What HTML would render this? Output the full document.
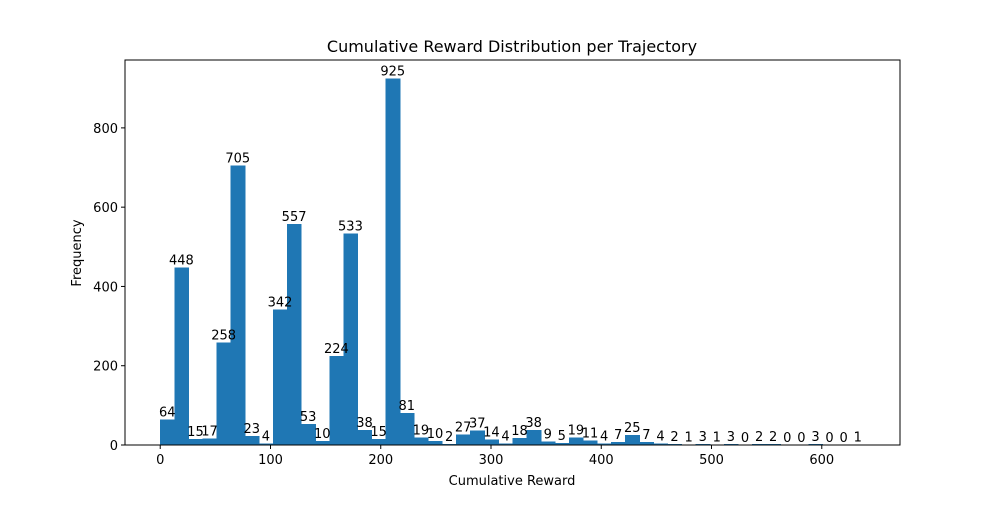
<!DOCTYPE html>
<html><head><meta charset="utf-8"><style>
body{margin:0;background:#fff;}
svg text{font-family:"DejaVu Sans","Liberation Sans",sans-serif;}
</style></head><body>
<svg id="chart" width="1000" height="500" xmlns="http://www.w3.org/2000/svg">
<rect width="1000" height="500" fill="#fff"/>
<text x="512" y="52" font-size="16" text-anchor="middle">Cumulative Reward Distribution per Trajectory</text>
<text x="512" y="485" font-size="13" text-anchor="middle">Cumulative Reward</text>
<text x="81" y="253" font-size="13" text-anchor="middle" transform="rotate(-90 81 253)">Frequency</text>
<g id="bars" shape-rendering="crispEdges"></g><g id="labels"></g><g id="axes"></g>
</svg>
<script>
const counts=[64,448,15,17,258,705,23,4,342,557,53,10,224,533,38,15,925,81,19,10,2,27,37,14,4,18,38,9,5,19,11,4,7,25,7,4,2,1,3,1,3,0,2,2,0,0,3,0,0,1];
const dataMin=0, dataMax=639;
const xTicks=[0,100,200,300,400,500,600];
const yTicks=[0,200,400,600,800];
const L=125,R=900,T=60,B=445;
const span=dataMax-dataMin, xmin=dataMin-0.05*span, xmax=dataMax+0.05*span;
const ymax=Math.max(...counts)*1.05;
const xs=v=>L+(v-xmin)/(xmax-xmin)*(R-L);
const ys=v=>B-v/ymax*(B-T);
const NS="http://www.w3.org/2000/svg";
function mk(tag,attrs,parent){const e=document.createElementNS(NS,tag);for(const k in attrs)e.setAttribute(k,attrs[k]);parent.appendChild(e);return e;}
const bars=document.getElementById('bars'),labels=document.getElementById('labels'),axes=document.getElementById('axes');
const bw=span/counts.length;
counts.forEach((c,i)=>{
  const x0=xs(dataMin+i*bw),x1=xs(dataMin+(i+1)*bw);
  const r=mk('rect',{x:x0,y:ys(c),width:x1-x0+0.6,height:B-ys(c),fill:'#1f77b4'},bars);
  
  
  const t=mk('text',{x:(x0+x1)/2,y:ys(c)-3,'font-size':13,'text-anchor':'middle'},labels);
  t.textContent=c;
  
  
});
const frame=mk('rect',{x:L,y:T,width:R-L,height:B-T,fill:'none',stroke:'#000','stroke-width':1},axes);


xTicks.forEach(v=>{
  const x=xs(v);
  mk('line',{x1:x,x2:x,y1:B,y2:B+4,stroke:'#000'},axes);
  const t=mk('text',{x:x,y:B+19,'font-size':13,'text-anchor':'middle'},axes);
  t.textContent=v;
  
  
});
yTicks.forEach(v=>{
  const y=ys(v);
  mk('line',{x1:L-4,x2:L,y1:y,y2:y,stroke:'#000'},axes);
  const t=mk('text',{x:L-7,y:y+5,'font-size':13,'text-anchor':'end'},axes);
  t.textContent=v;
  
  
});
</script>
</body></html>
